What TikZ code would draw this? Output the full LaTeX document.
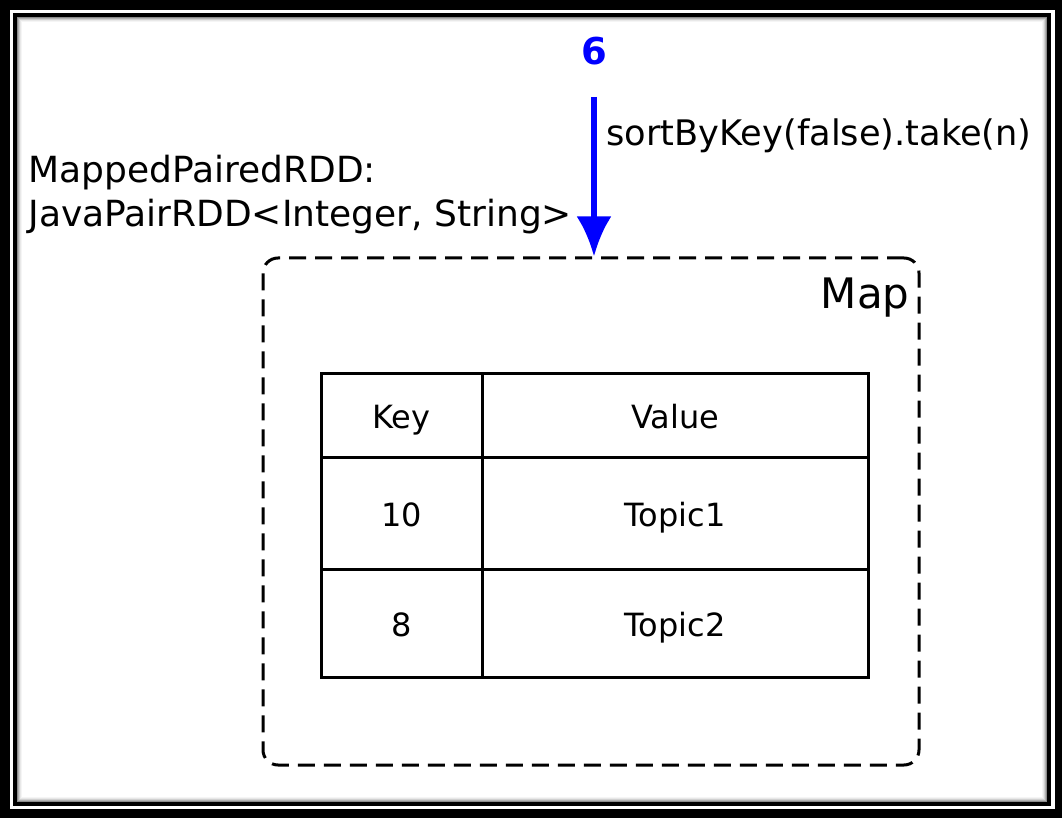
\documentclass[tikz,border=0pt]{standalone}
\usepackage{fontspec}
\setmainfont{DejaVu Sans}
\usetikzlibrary{arrows.meta}
\tikzset{
  cell/.style={draw, line width=1.5pt, inner sep=0pt, text height=13pt, text depth=0pt,
    font=\fontsize{16}{19}\selectfont},
  keycol/.style={cell, minimum width=80.5pt},
  valcol/.style={cell, minimum width=193pt},
  mapbox/.style={draw, line width=1.5pt, dash pattern=on 8.5pt off 4.5pt, rounded corners=7.5pt,
    minimum width=328pt, minimum height=253.5pt},
  lbl/.style={inner sep=0pt, font=\fontsize{17.6}{22}\selectfont},
}
\begin{document}
\begin{tikzpicture}[x=0.5pt,y=-0.5pt]
  \useasboundingbox (0,0) rectangle (1062,818);
  % frame
  \fill (0,0) rectangle (1062,818);
  \fill[white] (10,10) rectangle (1055,809);
  \fill (13,13) rectangle (1051,806);
  \fill[white] (17,17) rectangle (1047,802);
  \foreach \i/\o in {1/0.45,2/0.3,3/0.18,4/0.09,5/0.04}
    \draw[line width=0.5pt, opacity=\o] (16.5+\i,16.5+\i) rectangle (1047.5-\i,802.5-\i);
  % map box
  \node[mapbox] (map) at (591,511.5) {};
  \node[lbl, anchor=base east, font=\fontsize{21}{25}\selectfont] (maplabel) at (910,309) {Map};
  % table
  \node[keycol, minimum height=42pt] (key) at (401.5,416) {Key};
  \node[valcol, minimum height=42pt] (value) at (675,416) {Value};
  \node[keycol, minimum height=56pt] (key1) at (401.5,514) {10};
  \node[valcol, minimum height=56pt] (value1) at (675,514) {Topic1};
  \node[keycol, minimum height=54pt] (key2) at (401.5,624) {8};
  \node[valcol, minimum height=54pt] (value2) at (675,624) {Topic2};
  % step 6
  \node[lbl, font=\fontsize{18.5}{22}\selectfont\bfseries, text=blue] (six) at (594,51) {6};
  \coordinate (start) at (594,97);
  \draw[blue, line width=2.8pt, -{Latex[length=20pt,width=17.5pt]}] (start) -- (start |- map.north);
  \node[lbl, anchor=west] (op) at (606,136) {sortByKey(false).take(n)};
  \node[lbl, anchor=west, align=left, font=\fontsize{18}{22}\selectfont] (rdd) at (28,195)
    {MappedPairedRDD:\\JavaPairRDD<Integer, String>};
\end{tikzpicture}
\end{document}
